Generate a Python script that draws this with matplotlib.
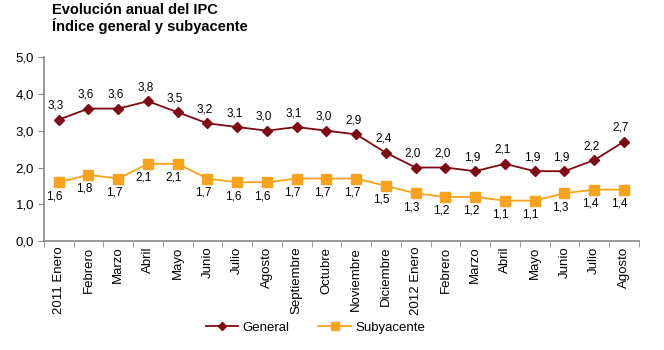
import numpy as np
import matplotlib
matplotlib.use("Agg")
import matplotlib.pyplot as plt

plt.rcParams['font.family'] = ['Liberation Sans', 'DejaVu Sans']

# datos
meses = ["2011 Enero", "Febrero", "Marzo", "Abril", "Mayo", "Junio", "Julio",
         "Agosto", "Septiembre", "Octubre", "Noviembre", "Diciembre",
         "2012 Enero", "Febrero", "Marzo", "Abril", "Mayo", "Junio", "Julio", "Agosto"]
general = [3.3, 3.6, 3.6, 3.8, 3.5, 3.2, 3.1, 3.0, 3.1, 3.0, 2.9, 2.4,
           2.0, 2.0, 1.9, 2.1, 1.9, 1.9, 2.2, 2.7]
subyacente = [1.6, 1.8, 1.7, 2.1, 2.1, 1.7, 1.6, 1.6, 1.7, 1.7, 1.7, 1.5,
              1.3, 1.2, 1.2, 1.1, 1.1, 1.3, 1.4, 1.4]

c_gen = '#7f0a14'
c_sub = '#f9a31c'


def fmt(v):
    return ('%.1f' % v).replace('.', ',')


fig = plt.figure(figsize=(6.64, 3.5), dpi=100)
ax = fig.add_axes([0.066, 0.311, 0.896, 0.526])

x = np.arange(len(meses))
ax.plot(x, general, color=c_gen, lw=1.3, marker='D', ms=5, label='General')
ax.plot(x, subyacente, color=c_sub, lw=1.3, marker='s', ms=6.5, label='Subyacente')

for i, v in enumerate(general):
    ax.annotate(fmt(v), (i, v), xytext=(-2, 10), textcoords='offset points',
                ha='center', va='center', fontsize=8.5)
for i, v in enumerate(subyacente):
    ax.annotate(fmt(v), (i, v), xytext=(-3, -10), textcoords='offset points',
                ha='center', va='center', fontsize=8.5)

ax.set_xlim(-0.5, len(meses) - 0.5)
ax.set_ylim(0, 5)
ax.set_yticks(np.arange(0, 5.1, 1))
ax.set_yticklabels([fmt(v) for v in np.arange(0, 5.1, 1)], fontsize=9.5)
ax.set_xticks(x)
ax.set_xticklabels(meses, rotation=90, fontsize=9.5)
ax.set_xticks(np.arange(-0.5, len(meses), 1), minor=True)
ax.tick_params(axis='x', which='major', length=0, pad=4)
ax.tick_params(axis='x', which='minor', length=4, color='#888888')
ax.tick_params(axis='y', length=4, color='#888888', pad=3)

for s in ['top', 'right']:
    ax.spines[s].set_visible(False)
for s in ['left', 'bottom']:
    ax.spines[s].set_color('#888888')
    ax.spines[s].set_linewidth(1.2)

fig.text(0.078, 0.972, 'Evolución anual del IPC', fontsize=10.5, fontweight='bold', va='center')
fig.text(0.078, 0.927, 'Índice general y subyacente', fontsize=10.5, fontweight='bold', va='center')

fig.legend(loc='center', bbox_to_anchor=(0.475, 0.063), ncol=2, frameon=False,
           fontsize=9.5, handlelength=2.5, columnspacing=2.2, handletextpad=0.3,
           markerscale=0.85)

fig.savefig('out.png', dpi=100)
